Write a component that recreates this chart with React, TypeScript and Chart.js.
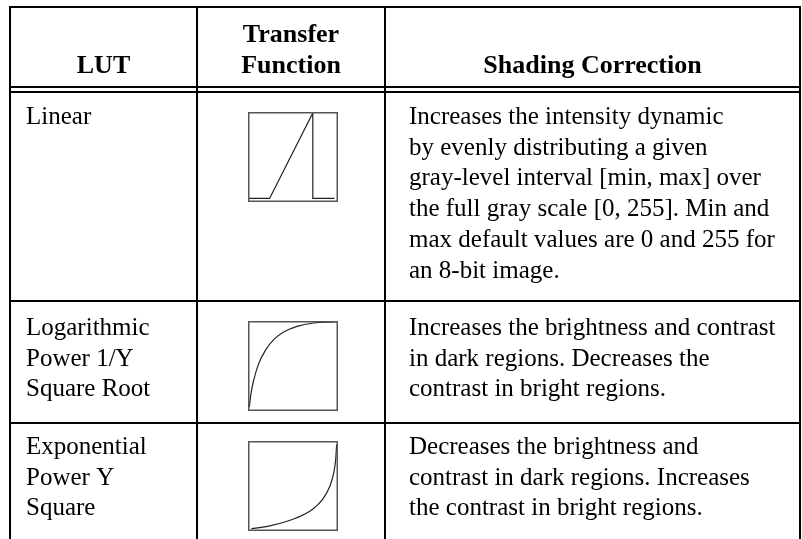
import React, { useEffect, useRef } from "react";
import { Chart, registerables } from "chart.js";

Chart.register(...registerables);

// ---- Table text ----
const headerLut = ["LUT"];
const headerTransfer = ["Transfer", "Function"];
const headerShading = ["Shading Correction"];
const lutNames = [
  ["Linear"],
  ["Logarithmic", "Power 1/Y", "Square Root"],
  ["Exponential", "Power Y", "Square"],
];
const descriptions = [
  [
    "Increases the intensity dynamic",
    "by evenly distributing a given",
    "gray-level interval [min, max] over",
    "the full gray scale [0, 255]. Min and",
    "max default values are 0 and 255 for",
    "an 8-bit image.",
  ],
  [
    "Increases the brightness and contrast",
    "in dark regions. Decreases the",
    "contrast in bright regions.",
  ],
  [
    "Decreases the brightness and",
    "contrast in dark regions. Increases",
    "the contrast in bright regions.",
  ],
];

// ---- Transfer function curves (input 0..100 -> output 0..100) ----
const linearX = [1, 24, 72, 72, 96];
const linearY = [4, 4, 99, 4, 4];
const logX = [1.5, 3.3, 6.3, 11.9, 19.3, 28.5, 39.6, 54.4, 73.0, 97.0];
const logY = [4.4, 19.3, 34.1, 52.6, 67.4, 79.3, 87.8, 94.1, 97.8, 98.9];
const expX = [3.7, 24.1, 42.6, 59.3, 72.2, 83.3, 90.7, 95.2, 97.4, 98.5];
const expY = [2.6, 5.7, 10.6, 17.0, 24.5, 35.8, 49.1, 64.2, 79.2, 96.2];

const curves = [
  { xs: linearX, ys: linearY, smooth: false },
  { xs: logX, ys: logY, smooth: true },
  { xs: expX, ys: expY, smooth: true },
];

// ---- layout ----
const W = 802;
const H = 539;
const LH = 30.7;
const FONT_FAMILY = '"Liberation Serif", "Times New Roman", serif';
const BODY_SIZE = 25;
const HEAD_SIZE = 26;
const colX = [10, 197, 385, 800];
const headRules = [87, 92];
const rowRules = [301, 423];
const rowBaselines = [124, 335, 454];
const headBaseline = 73;
const boxTops = [112, 321, 441];
const boxLeft = 248;
const BOX = 90;

const tablePlugin = {
  id: "tableDraw",
  beforeDraw(chart: any) {
    const ctx = chart.ctx as CanvasRenderingContext2D;
    ctx.save();
    ctx.fillStyle = "#fff";
    ctx.fillRect(0, 0, chart.width, chart.height);
    ctx.restore();
  },
  afterDraw(chart: any) {
    const ctx = chart.ctx as CanvasRenderingContext2D;
    ctx.save();
    // rules
    ctx.strokeStyle = "#000";
    ctx.lineWidth = 2;
    const hline = (y: number) => {
      ctx.beginPath();
      ctx.moveTo(colX[0] - 1, y);
      ctx.lineTo(colX[3] + 1, y);
      ctx.stroke();
    };
    const vline = (x: number) => {
      ctx.beginPath();
      ctx.moveTo(x, 6);
      ctx.lineTo(x, H + 10);
      ctx.stroke();
    };
    hline(7);
    headRules.forEach(hline);
    rowRules.forEach(hline);
    colX.forEach(vline);

    // text
    ctx.fillStyle = "#000";
    ctx.textBaseline = "alphabetic";
    const draw = (lines: string[], x: number, firstBaseline: number, align: CanvasTextAlign, bold: boolean, size: number) => {
      ctx.font = `${bold ? "bold " : ""}${size}px ${FONT_FAMILY}`;
      ctx.textAlign = align;
      lines.forEach((t, i) => ctx.fillText(t, x, firstBaseline + i * LH));
    };
    const mid = (a: number, b: number) => (a + b) / 2;
    draw(headerLut, mid(colX[0], colX[1]), headBaseline, "center", true, HEAD_SIZE);
    draw(headerTransfer, mid(colX[1], colX[2]), headBaseline - LH, "center", true, HEAD_SIZE);
    draw(headerShading, mid(colX[2], colX[3]), headBaseline, "center", true, HEAD_SIZE);
    lutNames.forEach((lines, r) => draw(lines, 26, rowBaselines[r], "left", false, BODY_SIZE));
    descriptions.forEach((lines, r) => draw(lines, 409, rowBaselines[r], "left", false, BODY_SIZE));
    ctx.restore();
  },
};

function TableCanvas() {
  const ref = useRef<HTMLCanvasElement | null>(null);
  useEffect(() => {
    if (!ref.current) return;
    const chart = new Chart(ref.current, {
      type: "scatter",
      data: { datasets: [] },
      options: {
        animation: false,
        responsive: false,
        maintainAspectRatio: false,
        events: [],
        plugins: { legend: { display: false }, tooltip: { enabled: false } },
        scales: { x: { display: false }, y: { display: false } },
      },
      plugins: [tablePlugin],
    });
    return () => chart.destroy();
  }, []);
  return <canvas ref={ref} width={W} height={H} style={{ width: W, height: H, display: "block" }} />;
}

const boxPlugin = {
  id: "boxFrame",
  afterDraw(chart: any) {
    const { ctx, chartArea } = chart;
    ctx.save();
    ctx.strokeStyle = "#555";
    ctx.lineWidth = 1.5;
    ctx.strokeRect(
      chartArea.left + 0.75,
      chartArea.top + 0.75,
      chartArea.right - chartArea.left - 1.5,
      chartArea.bottom - chartArea.top - 1.5
    );
    ctx.restore();
  },
};

function MiniChart({ xs, ys, smooth }: { xs: number[]; ys: number[]; smooth: boolean }) {
  const ref = useRef<HTMLCanvasElement | null>(null);
  useEffect(() => {
    if (!ref.current) return;
    const chart = new Chart(ref.current, {
      type: "line",
      data: {
        datasets: [
          {
            data: xs.map((x, i) => ({ x, y: ys[i] })),
            borderColor: "#222",
            borderWidth: 1.2,
            pointRadius: 0,
            fill: false,
            tension: smooth ? 0.4 : 0,
            cubicInterpolationMode: smooth ? "monotone" : "default",
          } as any,
        ],
      },
      options: {
        animation: false,
        responsive: false,
        maintainAspectRatio: false,
        events: [],
        layout: { padding: 0 },
        plugins: { legend: { display: false }, tooltip: { enabled: false } },
        scales: {
          x: { type: "linear", min: 0, max: 100, display: false },
          y: { type: "linear", min: 0, max: 100, display: false },
        },
      },
      plugins: [boxPlugin],
    });
    return () => chart.destroy();
  }, [xs, ys, smooth]);
  return <canvas ref={ref} width={BOX} height={BOX} style={{ width: BOX, height: BOX, display: "block" }} />;
}

export default function App() {
  return (
    <div style={{ position: "fixed", left: 0, top: 0, width: W, height: H, overflow: "hidden", background: "#fff" }}>
      <TableCanvas />
      {curves.map((c, r) => (
        <div key={"c" + r} style={{ position: "absolute", left: boxLeft, top: boxTops[r] }}>
          <MiniChart xs={c.xs} ys={c.ys} smooth={c.smooth} />
        </div>
      ))}
    </div>
  );
}
